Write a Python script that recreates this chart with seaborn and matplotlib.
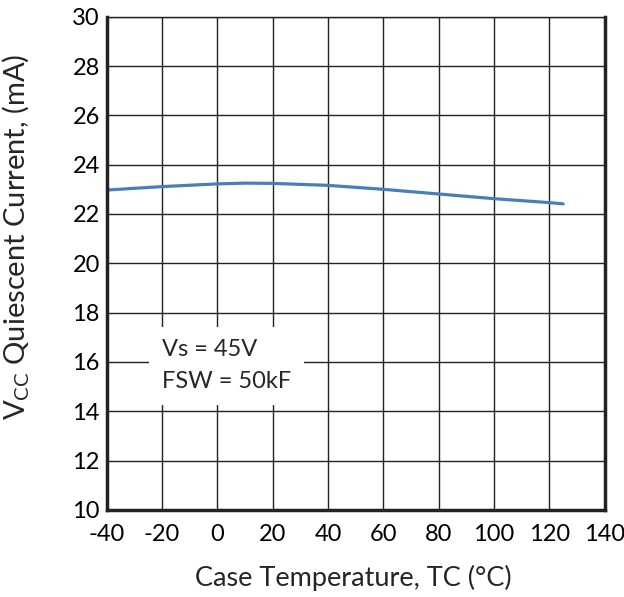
#!/usr/bin/env python3

import matplotlib
matplotlib.use("Agg")
import matplotlib.pyplot as plt
import pandas as pd
import seaborn as sns

# values
temperature = [-40, -20, 0, 10, 20, 40, 60, 80, 100, 120, 125]
quiescent_ma = [22.97, 23.11, 23.22, 23.25, 23.24, 23.16, 23.00, 22.81, 22.62, 22.46, 22.41]

x_ticks = [-40, -20, 0, 20, 40, 60, 80, 100, 120, 140]
y_ticks = [10, 12, 14, 16, 18, 20, 22, 24, 26, 28, 30]

df = pd.DataFrame({"temp": temperature, "iq": quiescent_ma})

sns.set_style("white")
plt.rcParams["font.family"] = ["Lato", "DejaVu Sans"]
plt.rcParams["mathtext.fontset"] = "custom"
plt.rcParams["mathtext.rm"] = "Lato"
plt.rcParams["axes.unicode_minus"] = False

fig = plt.figure(figsize=(6.24, 5.97), dpi=100)
ax = fig.add_axes([0.171, 0.146, 0.798, 0.826])

sns.lineplot(data=df, x="temp", y="iq", ax=ax, color="#4a7ebb", linewidth=2.3)

ax.set_xlim(-40, 140)
ax.set_ylim(10, 30)
ax.set_xticks(x_ticks)
ax.set_yticks(y_ticks)
ax.grid(True, color="#222222", linewidth=1.0)
ax.tick_params(length=0, labelsize=17, colors="black")
ax.tick_params(axis="x", pad=10)
ax.tick_params(axis="y", pad=5)

for side in ["left", "bottom", "right"]:
    ax.spines[side].set_visible(True)
    ax.spines[side].set_color("#222222")
    ax.spines[side].set_linewidth(2.5)
ax.spines["top"].set_visible(True)
ax.spines["top"].set_color("#222222")
ax.spines["top"].set_linewidth(1.0)

ax.set_xlabel("Case Temperature, TC (°C)", fontsize=19.5)
ax.set_ylabel(r"V$_{\mathregular{CC}}$ Quiescent Current, (mA)", fontsize=21)
ax.xaxis.set_label_coords(0.495, -0.112)
ax.yaxis.set_label_coords(-0.15, 0.553)

ax.text(-20, 15.85, "Vs = 45V\nFSW = 50kF", fontsize=17, linespacing=1.6,
        ha="left", va="center", zorder=5,
        bbox=dict(boxstyle="square,pad=0.55", facecolor="white", edgecolor="none"))

plt.savefig("out.png", dpi=100)
